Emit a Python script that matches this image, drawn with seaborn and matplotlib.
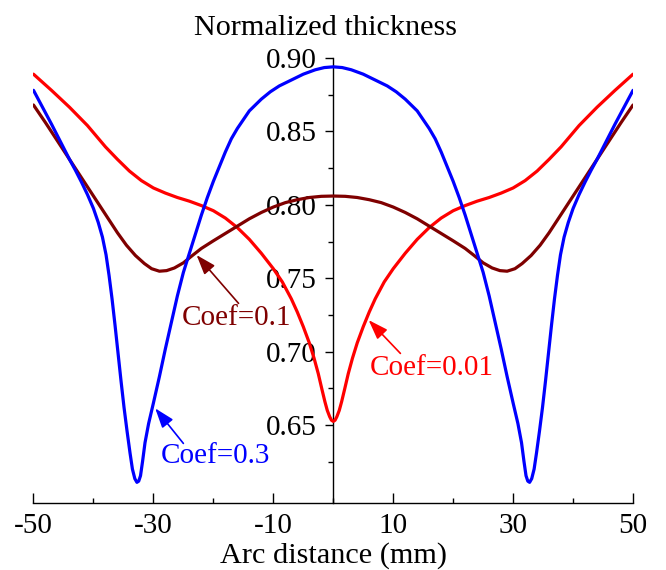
import matplotlib
matplotlib.use("Agg")
import matplotlib.pyplot as plt
import numpy as np
import pandas as pd
import seaborn as sns

# ---------------- data ----------------
red_x = [-50, -47, -44, -41, -38, -36, -34, -32, -30, -28, -26, -24, -22, -20, -18, -16, -14, -12, -10, -8.5, -7, -6, -5, -4, -3.2, -2.5, -1.9, -1.4, -1.0, -0.6, -0.3, 0,
         0.3, 0.6, 1.0, 1.4, 1.9, 2.5, 3.2, 4, 5, 6, 7, 8.5, 10, 12, 14, 16, 18, 20, 22, 24, 26, 28, 30, 32, 34, 36, 38, 41, 44, 47, 50]
red_y = [0.889, 0.878, 0.8665, 0.854, 0.8395, 0.831, 0.823, 0.8165, 0.8115, 0.808, 0.805, 0.8025, 0.7995, 0.796, 0.791, 0.7845, 0.7765, 0.767, 0.7565, 0.7475, 0.736, 0.727, 0.717, 0.706, 0.6955, 0.685, 0.6745, 0.666, 0.660, 0.6557, 0.6533, 0.6525,
         0.6533, 0.6557, 0.660, 0.666, 0.6745, 0.685, 0.6955, 0.706, 0.717, 0.727, 0.736, 0.7475, 0.7565, 0.767, 0.7765, 0.7845, 0.791, 0.796, 0.7995, 0.8025, 0.805, 0.808, 0.8115, 0.8165, 0.823, 0.831, 0.8395, 0.854, 0.8665, 0.878, 0.889]

dred_x = [-50, -48, -46, -44, -42, -40, -38, -36, -34.5, -33, -31.5, -30.3, -29, -27.8, -26.5, -25, -23.5, -22, -20, -18, -16, -14, -12, -10, -8, -6, -4, -2, 0,
          2, 4, 6, 8, 10, 12, 14, 16, 18, 20, 22, 23.5, 25, 26.5, 27.8, 29, 30.3, 31.5, 33, 34.5, 36, 38, 40, 42, 44, 46, 48, 50]
dred_y = [0.868, 0.856, 0.8435, 0.831, 0.8185, 0.806, 0.7935, 0.781, 0.7725, 0.7655, 0.760, 0.7565, 0.7548, 0.7552, 0.757, 0.7605, 0.7655, 0.7703, 0.7755, 0.7805, 0.7855, 0.7905, 0.7948, 0.7985, 0.8015, 0.8035, 0.805, 0.8058, 0.806,
          0.8058, 0.805, 0.8035, 0.8015, 0.7985, 0.7948, 0.7905, 0.7855, 0.7805, 0.7755, 0.7703, 0.7655, 0.7605, 0.757, 0.7552, 0.7548, 0.7565, 0.760, 0.7655, 0.7725, 0.781, 0.7935, 0.806, 0.8185, 0.831, 0.8435, 0.856, 0.868]

blue_x = [-50, -47, -44, -43, -42, -41, -40, -39.2, -38.5, -37.9, -37.4, -36.9, -36.4, -35.9, -35.4, -34.9, -34.4, -33.9, -33.5, -33.1, -32.75, -32.45, -32.15, -31.8, -31.4, -30.8, -30, -29, -28, -27, -26, -25, -24, -23, -22, -21, -20, -19, -18, -17, -16, -15, -14, -13, -12, -10.5, -9, -7, -5, -3, -1.5, 0,
          1.5, 3, 5, 7, 9, 10.5, 12, 13, 14, 15, 16, 17, 18, 19, 20, 21, 22, 23, 24, 25, 26, 27, 28, 29, 30, 30.8, 31.4, 31.8, 32.15, 32.45, 32.75, 33.1, 33.5, 33.9, 34.4, 34.9, 35.4, 35.9, 36.4, 36.9, 37.4, 37.9, 38.5, 39.2, 40, 41, 42, 43, 44, 47, 50]
blue_y = [0.878, 0.855, 0.831, 0.8235, 0.8155, 0.807, 0.7975, 0.788, 0.778, 0.766, 0.752, 0.736, 0.718, 0.699, 0.680, 0.662, 0.646, 0.631, 0.620, 0.6135, 0.611, 0.6118, 0.6155, 0.6255, 0.638, 0.651, 0.665, 0.683, 0.702, 0.720, 0.738, 0.754, 0.767, 0.780, 0.793, 0.805, 0.816, 0.826, 0.836, 0.845, 0.852, 0.858, 0.864, 0.868, 0.872, 0.877, 0.881, 0.885, 0.889, 0.892, 0.8935, 0.894,
          0.8935, 0.892, 0.889, 0.885, 0.881, 0.877, 0.872, 0.868, 0.864, 0.858, 0.852, 0.845, 0.836, 0.826, 0.816, 0.805, 0.793, 0.780, 0.767, 0.754, 0.738, 0.720, 0.702, 0.683, 0.665, 0.651, 0.638, 0.6255, 0.6155, 0.6118, 0.611, 0.6135, 0.620, 0.631, 0.646, 0.662, 0.680, 0.699, 0.718, 0.736, 0.752, 0.766, 0.778, 0.788, 0.7975, 0.807, 0.8155, 0.8235, 0.831, 0.855, 0.878]

series_names = ["Coef=0.01", "Coef=0.1", "Coef=0.3"]
series_colors = ["#FF0000", "#7F0000", "#0000FF"]

x_major = [-50, -30, -10, 10, 30, 50]
x_minor = [-40, -20, 0, 20, 40]
y_major = [0.65, 0.70, 0.75, 0.80, 0.85, 0.90]
y_minor = [0.625, 0.675, 0.725, 0.775, 0.825, 0.875]
y_labels = ["0.65", "0.70", "0.75", "0.80", "0.85", "0.90"]

# annotation: (text, text x, text baseline y, arrow tail, arrow head)
annots = [
    ("Coef=0.1", -16.2, 0.7181, (-15.8, 0.7329), (-22.8, 0.7658)),
    ("Coef=0.3", -19.7, 0.6241, (-25.0, 0.6375), (-29.7, 0.6614)),
    ("Coef=0.01", 16.4, 0.6840, (11.2, 0.6988), (5.9, 0.7215)),
]
annot_colors = ["#7F0000", "#0000FF", "#FF0000"]

# ---------------- table ----------------
frames = []
for name, xs, ys in zip(series_names, [red_x, dred_x, blue_x], [red_y, dred_y, blue_y]):
    frames.append(pd.DataFrame({"x": xs, "y": ys, "series": name}))
df = pd.concat(frames, ignore_index=True)

# ---------------- plot ----------------
sns.set_theme(style="white")
plt.rcParams["font.family"] = ["Liberation Serif", "DejaVu Serif"]
plt.rcParams["axes.unicode_minus"] = False

fig = plt.figure(figsize=(6.66, 5.70), dpi=100)
ax = fig.add_axes([0.0503, 0.1175, 0.9002, 0.7807])

sns.lineplot(data=df, x="x", y="y", hue="series", hue_order=series_names,
             palette=dict(zip(series_names, series_colors)), sort=False,
             estimator=None, units="series", legend=False, linewidth=2.3, ax=ax)
for ln in ax.lines:
    ln.set_zorder(3)
    ln.set_solid_joinstyle("round")

ax.set_xlim(-50, 50)
ax.set_ylim(0.5969, 0.90)

ax.spines["top"].set_visible(False)
ax.spines["right"].set_visible(False)
ax.spines["left"].set_position(("data", 0))
for s in ["left", "bottom"]:
    ax.spines[s].set_color("black")
    ax.spines[s].set_linewidth(1.0)
    ax.spines[s].set_zorder(2.5)

ax.set_xticks(x_major)
ax.set_xticks(x_minor, minor=True)
ax.set_xticklabels([str(v) for v in x_major])
ax.set_yticks(y_major)
ax.set_yticks(y_minor, minor=True)
ax.set_yticklabels(y_labels)

ax.tick_params(axis="x", which="major", bottom=True, direction="in", length=7.2, width=1.0,
               color="black", labelsize=21, pad=7, labelcolor="black")
ax.tick_params(axis="x", which="minor", bottom=True, direction="in", length=3.6, width=1.0, color="black")
ax.tick_params(axis="y", which="major", left=True, direction="out", length=5.8, width=1.0,
               color="black", labelsize=21, pad=6, labelcolor="black")
ax.tick_params(axis="y", which="minor", left=True, direction="out", length=3.6, width=1.0, color="black")

ax.set_xlabel("")
ax.set_ylabel("")

for (txt, tx, ty, tail, head), col in zip(annots, annot_colors):
    ax.text(tx, ty, txt, color=col, fontsize=21, ha="center", va="baseline", zorder=4)
    ax.annotate("", xy=head, xytext=tail,
                arrowprops=dict(arrowstyle="-|>,head_length=0.8,head_width=0.28",
                                mutation_scale=15, color=col, lw=1.2,
                                shrinkA=0, shrinkB=0), zorder=4)

fig.text(0.4887, 1 - 35 / 570, "Normalized thickness", fontsize=21.8, ha="center", va="baseline", color="black")
fig.text(0.5003, 1 - 563 / 570, "Arc distance (mm)", fontsize=21.8, ha="center", va="baseline", color="black")

fig.savefig("out.png", dpi=100)
